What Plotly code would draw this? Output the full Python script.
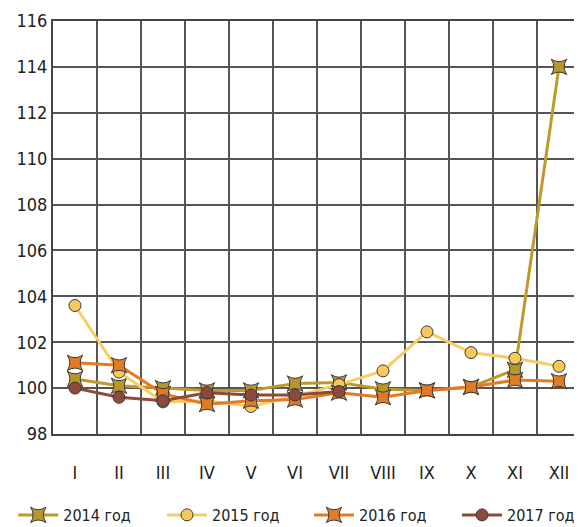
import plotly.graph_objects as go

months = ["I", "II", "III", "IV", "V", "VI", "VII", "VIII", "IX", "X", "XI", "XII"]
y2014 = [100.4, 100.1, 100.0, 99.9, 99.9, 100.2, 100.25, 99.95, 99.9, 100.05, 100.8, 114.0]
y2015 = [103.6, 100.7, 99.4, 99.45, 99.2, 99.65, 100.15, 100.75, 102.45, 101.55, 101.3, 100.95]
y2016 = [101.1, 101.0, 99.75, 99.3, 99.45, 99.5, 99.8, 99.6, 99.9, 100.05, 100.35, 100.3]
y2017 = [100.0, 99.6, 99.45, 99.8, 99.7, 99.7, 99.85]

names = ["2014 год", "2015 год", "2016 год", "2017 год"]
series = [y2014, y2015, y2016, y2017]
colors = ["#b8962c", "#f7c95c", "#e27b25", "#8d4a3c"]
symbols = ["star-square", "circle", "star-square", "circle"]
line_colors = ["#bf9a2a", "#f8cd62", "#e47a22", "#8d4a3c"]
legend_ids = ["legend", "legend2", "legend3", "legend4"]
legend_x = [-0.0752, 0.2064, 0.4848, 0.7652]

FONT = "DejaVu Sans Condensed, Liberation Sans Narrow, sans-serif"

fig = go.Figure()
for name, ys, c, lc, s, lg in zip(names, series, colors, line_colors, symbols, legend_ids):
    fig.add_trace(go.Scatter(
        x=list(range(len(ys))), y=ys, name=name, mode="lines+markers",
        line=dict(color=lc, width=3), legend=lg,
        marker=dict(symbol=s, size=12 if s == "circle" else 14, color=c,
                    line=dict(color="#3a3a3a", width=1)),
    ))

legend_common = dict(orientation="h", xanchor="left", y=-0.1961, yanchor="middle",
                     font=dict(size=16, family=FONT, color="#222"),
                     bgcolor="rgba(0,0,0,0)", itemwidth=40)
fig.update_layout(
    width=574, height=519,
    margin=dict(l=45, r=1, t=13, b=93, autoexpand=False),
    paper_bgcolor="white", plot_bgcolor="white",
    font=dict(family=FONT, color="#222", size=18),
    showlegend=True,
    legend=dict(x=legend_x[0], **legend_common),
    legend2=dict(x=legend_x[1], **legend_common),
    legend3=dict(x=legend_x[2], **legend_common),
    legend4=dict(x=legend_x[3], **legend_common),
)
fig.update_xaxes(
    range=[-0.5, 11.5], tickmode="array", tickvals=list(range(12)), ticktext=months,
    showgrid=False, zeroline=False, ticks="", tickfont=dict(size=18, family=FONT),
    showline=True, linecolor="#444", linewidth=2, mirror=True, automargin=False,
    ticklabelstandoff=21,
    minor=dict(tickmode="array", tickvals=[i + 0.5 for i in range(-1, 12)],
               showgrid=True, gridcolor="#555", gridwidth=1.5, ticks=""),
)
fig.update_yaxes(
    range=[98, 116], dtick=2, showgrid=True, gridcolor="#555", gridwidth=1.5,
    zeroline=False, ticks="", tickfont=dict(size=18, family=FONT), automargin=False,
    showline=True, linecolor="#444", linewidth=2, mirror=True, ticklabelstandoff=0,
)

fig.write_html("out.html")
